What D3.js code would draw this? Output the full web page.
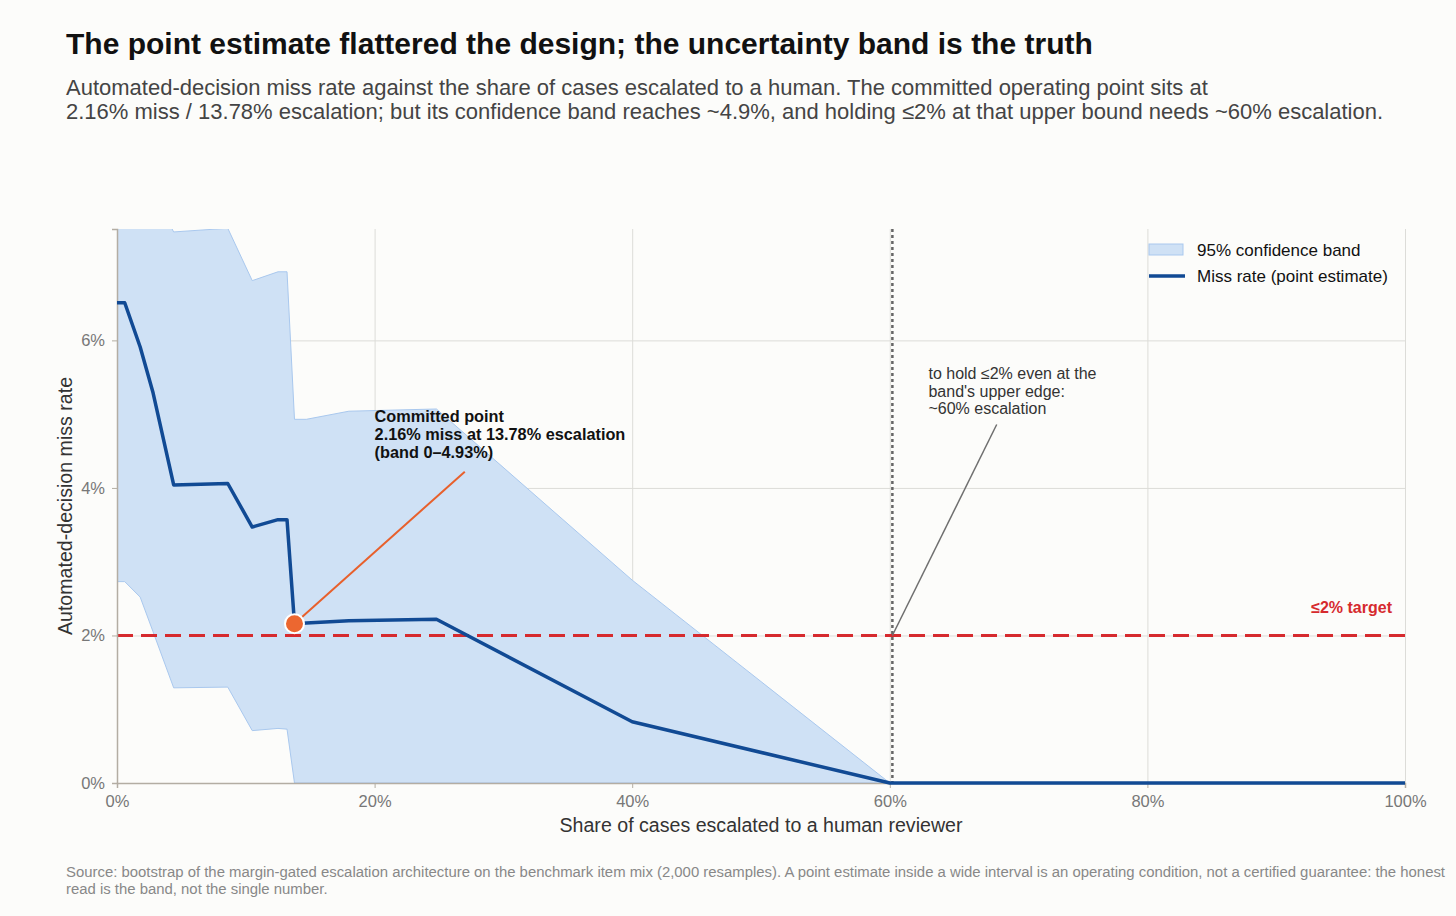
<!DOCTYPE html>
<meta charset="utf-8">
<style>
body { margin: 0; background: #fcfcfa; font-family: "Liberation Sans", Arial, sans-serif; }
svg text { font-family: "Liberation Sans", Arial, sans-serif; }
.grid line { stroke: #dcdcd8; stroke-width: 1; }
.grid path { display: none; }
.axis path, .axis line { stroke: #b3ada3; }
.axis text { fill: #777; font-size: 16.5px; }
</style>
<script src="https://cdn.jsdelivr.net/npm/d3@7"></script>
<body>
<script>

// escalation share (%) and the curves (%)
var escalation = [0, 0.6, 1.8, 2.8, 4.4, 8.6, 10.5, 12.5, 13.2, 13.78, 14.7, 18.0, 24.8, 40, 60, 100];
var missRate   = [6.51, 6.51, 5.91, 5.29, 4.04, 4.06, 3.47, 3.57, 3.57, 2.16, 2.17, 2.20, 2.22, 0.83, 0, 0];
var bandLow    = [2.73, 2.73, 2.52, 2.05, 1.29, 1.30, 0.71, 0.74, 0.73, 0, 0, 0, 0, 0, 0, 0];
var bandHigh   = [8.9, 8.9, 8.4, 8.0, 7.47, 7.52, 6.81, 6.93, 6.93, 4.93, 4.93, 5.04, 5.07, 2.75, 0, 0];

var xTicks = [0, 20, 40, 60, 80, 100];
var yTicks = [0, 2, 4, 6];
var target = 2;
var committed = { x: 13.78, y: 2.16 };
var upperBoundNeed = 60.2;

var width = 1456, height = 916;
var margin = { top: 229, right: 51, bottom: 133, left: 117 };
var w = width - margin.left - margin.right,
    h = height - margin.top - margin.bottom;

var svg = d3.select("body").append("svg")
    .attr("width", width)
    .attr("height", height)
    .style("background", "#fcfcfa");

// titles
svg.append("text").attr("x", 66).attr("y", 54)
  .style("font-size", "30px").style("font-weight", "bold").style("fill", "#111")
  .text("The point estimate flattered the design; the uncertainty band is the truth");
var sub = svg.append("text").attr("x", 66).attr("y", 95)
  .style("font-size", "22px").style("fill", "#444");
sub.append("tspan").attr("x", 66).attr("dy", 0)
  .text("Automated-decision miss rate against the share of cases escalated to a human. The committed operating point sits at");
sub.append("tspan").attr("x", 66).attr("dy", 24)
  .text("2.16% miss / 13.78% escalation; but its confidence band reaches ~4.9%, and holding ≤2% at that upper bound needs ~60% escalation.");

var g = svg.append("g").attr("transform", "translate(" + margin.left + "," + margin.top + ")");

var x = d3.scaleLinear().domain([0, 100]).range([0, w]);
var y = d3.scaleLinear().domain([0, 7.51]).range([h, 0]);

g.append("defs").append("clipPath").attr("id", "clip")
  .append("rect").attr("width", w).attr("height", h);

// grid
g.append("g").attr("class", "grid")
  .call(d3.axisLeft(y).tickValues(yTicks).tickSize(-w).tickFormat(""));
g.append("g").attr("class", "grid")
  .attr("transform", "translate(0," + h + ")")
  .call(d3.axisBottom(x).tickValues(xTicks).tickSize(-h).tickFormat(""));

var data = escalation.map(function(d, i) {
  return { x: d, m: missRate[i], lo: bandLow[i], hi: bandHigh[i] };
});

// band
g.append("path").datum(data)
  .attr("clip-path", "url(#clip)")
  .attr("fill", "#cfe1f5")
  .attr("stroke", "#a9c8ee")
  .attr("stroke-width", 1)
  .attr("d", d3.area()
    .x(function(d) { return x(d.x); })
    .y0(function(d) { return y(d.lo); })
    .y1(function(d) { return y(d.hi); }));

// target line
g.append("line")
  .attr("x1", 0).attr("x2", w)
  .attr("y1", y(target)).attr("y2", y(target))
  .attr("stroke", "#d62a2e").attr("stroke-width", 3)
  .attr("stroke-dasharray", "16,8");
g.append("text")
  .attr("x", w - 13).attr("y", y(target) - 22)
  .attr("text-anchor", "end")
  .style("font-size", "16px").style("font-weight", "bold").style("fill", "#d62a2e")
  .text("≤2% target");

// vertical dotted at ~60%
g.append("line")
  .attr("x1", x(upperBoundNeed)).attr("x2", x(upperBoundNeed))
  .attr("y1", 0).attr("y2", h)
  .attr("stroke", "#666").attr("stroke-width", 2.5)
  .attr("stroke-dasharray", "3,3");

// axes
g.append("g").attr("class", "axis")
  .call(d3.axisLeft(y).tickValues(yTicks).tickSize(5).tickPadding(7)
    .tickFormat(function(d) { return d + "%"; }))
  .call(function(s) { s.select(".domain").attr("stroke-width", 1.5); });
g.append("g").attr("class", "axis")
  .attr("transform", "translate(0," + h + ")")
  .call(d3.axisBottom(x).tickValues(xTicks).tickSize(5).tickPadding(7)
    .tickFormat(function(d) { return d + "%"; }))
  .call(function(s) { s.select(".domain").attr("stroke-width", 1.5); });

// point estimate line
g.append("path").datum(data)
  .attr("fill", "none")
  .attr("stroke", "#114a94")
  .attr("stroke-width", 3.5)
  .attr("stroke-linejoin", "round")
  .attr("d", d3.line()
    .x(function(d) { return x(d.x); })
    .y(function(d) { return y(d.m); }));

// committed point annotation
g.append("line")
  .attr("x1", x(committed.x)).attr("y1", y(committed.y))
  .attr("x2", x(27.0)).attr("y2", y(4.22))
  .attr("stroke", "#e8602c").attr("stroke-width", 2);
g.append("circle")
  .attr("cx", x(committed.x)).attr("cy", y(committed.y)).attr("r", 9.5)
  .attr("fill", "#ec6730").attr("stroke", "#fff").attr("stroke-width", 2);
var ct = g.append("text").attr("x", x(20)).attr("y", y(4.93) + 3)
  .style("font-size", "16.3px").style("font-weight", "bold").style("fill", "#111");
["Committed point", "2.16% miss at 13.78% escalation", "(band 0–4.93%)"].forEach(function(t, i) {
  ct.append("tspan").attr("x", x(20)).attr("dy", i === 0 ? 0 : 18).text(t);
});

// 60% annotation
g.append("line")
  .attr("x1", x(upperBoundNeed)).attr("y1", y(target))
  .attr("x2", x(68.3)).attr("y2", y(4.86))
  .attr("stroke", "#6f6f6f").attr("stroke-width", 1.5);
var at = g.append("text").attr("x", x(63)).attr("y", 150)
  .style("font-size", "16px").style("fill", "#333");
["to hold ≤2% even at the", "band's upper edge:", "~60% escalation"].forEach(function(t, i) {
  at.append("tspan").attr("x", x(63)).attr("dy", i === 0 ? 0 : 17.5).text(t);
});

// legend
var lg = g.append("g").attr("transform", "translate(" + (1149 - margin.left) + "," + (244 - margin.top) + ")");
lg.append("rect").attr("width", 34).attr("height", 11)
  .attr("fill", "#cfe1f5").attr("stroke", "#a9c8ee");
lg.append("text").attr("x", 48).attr("y", 12)
  .style("font-size", "17px").style("fill", "#111").text("95% confidence band");
lg.append("line").attr("x1", 0).attr("x2", 36).attr("y1", 32).attr("y2", 32)
  .attr("stroke", "#114a94").attr("stroke-width", 3.5);
lg.append("text").attr("x", 48).attr("y", 38)
  .style("font-size", "17px").style("fill", "#111").text("Miss rate (point estimate)");

// axis titles
svg.append("text")
  .attr("x", margin.left + w / 2).attr("y", 832)
  .attr("text-anchor", "middle")
  .style("font-size", "19.6px").style("fill", "#333")
  .text("Share of cases escalated to a human reviewer");
svg.append("text")
  .attr("transform", "translate(72," + (margin.top + h / 2) + ") rotate(-90)")
  .attr("text-anchor", "middle")
  .style("font-size", "19.6px").style("fill", "#333")
  .text("Automated-decision miss rate");

// footer
var ft = svg.append("text").attr("x", 66).attr("y", 877)
  .style("font-size", "14.9px").style("fill", "#888");
ft.append("tspan").attr("x", 66).attr("dy", 0)
  .text("Source: bootstrap of the margin-gated escalation architecture on the benchmark item mix (2,000 resamples). A point estimate inside a wide interval is an operating condition, not a certified guarantee: the honest");
ft.append("tspan").attr("x", 66).attr("dy", 16.5)
  .text("read is the band, not the single number.");

</script>
</body>
